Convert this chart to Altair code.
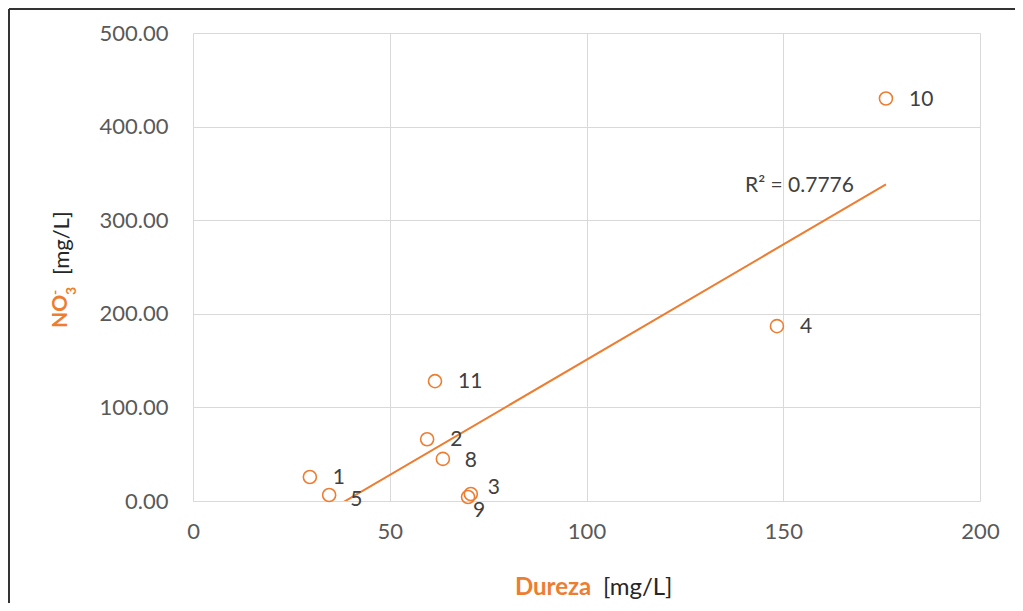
import altair as alt
import pandas as pd

labels = ["1", "2", "3", "4", "5", "8", "9", "10", "11"]
dureza = [29.7, 59.5, 70.6, 148.4, 34.6, 63.5, 69.9, 176.1, 61.5]
no3 = [25.6, 66.0, 7.5, 186.8, 6.4, 45.0, 4.3, 430.0, 128.0]

x_ticks = [0, 50, 100, 150, 200]
y_ticks = [0, 100, 200, 300, 400, 500]
r2_text = "R² = 0.7776"

ORANGE = "#ED7D31"
TEXT = "#404040"
FONT = "Lato"
W, H = 787, 468

df = pd.DataFrame({"label": labels, "x": dureza, "y": no3})

xs = alt.Scale(domain=[0, 200], nice=False)
ys = alt.Scale(domain=[0, 500], nice=False)

base = alt.Chart(df)

points = base.mark_point(shape="circle", filled=False, size=170, strokeWidth=1.6, color=ORANGE, opacity=1).encode(
    x=alt.X("x:Q", scale=xs, axis=alt.Axis(values=x_ticks, title=None, grid=True, gridColor="#d9d9d9",
                                           domain=False, ticks=False, labelFontSize=22, labelColor="#595959",
                                           labelFont=FONT, labelPadding=20, labelFlush=False)),
    y=alt.Y("y:Q", scale=ys, axis=alt.Axis(values=y_ticks, format=".2f", title=None, grid=True, gridColor="#d9d9d9",
                                           domain=False, ticks=False, labelFontSize=22, labelColor="#595959",
                                           labelFont=FONT, labelPadding=25, labelFlush=False)),
)

trend = base.transform_regression("x", "y").mark_line(color=ORANGE, strokeWidth=2, clip=True).encode(
    x=alt.X("x:Q", scale=xs), y=alt.Y("y:Q", scale=ys)
)

def lab(sel, dx, dy):
    return base.transform_filter(alt.FieldOneOfPredicate(field="label", oneOf=sel)).mark_text(
        align="left", baseline="middle", dx=dx, dy=dy, fontSize=21, font=FONT, color=TEXT
    ).encode(x=alt.X("x:Q", scale=xs), y=alt.Y("y:Q", scale=ys), text="label:N")

labs = [
    lab(["1", "2", "4", "10", "11"], 23, 1),
    lab(["8"], 22, 2),
    lab(["5"], 21, 5),
    lab(["3"], 17, -6),
    lab(["9"], 5, 14),
]

one = alt.Chart(df).transform_filter("datum.label == '1'")

def txt(t, x, y, size, color, weight="normal", angle=0, align="left"):
    return one.mark_text(align=align, baseline="middle", fontSize=size, font=FONT, color=color,
                         fontWeight=weight, angle=angle).encode(
        x=alt.value(x), y=alt.value(y), text=alt.value(t))

r2 = txt(r2_text, 552, 153, 21, TEXT)

titles = [
    txt("Dureza", 322, 555, 24, ORANGE, "bold"),
    txt("[mg/L]", 410, 555, 24, "#262626"),
    txt("NO", -132, 295, 21, ORANGE, "bold", 270),
    txt("3", -121, 262, 14, ORANGE, "bold", 270),
    txt("-", -137, 262, 14, ORANGE, "bold", 270),
    txt("[mg/L]", -131, 242, 22, "#262626", "normal", 270),
]

border = [
    one.mark_rule(color="#333333", strokeWidth=2).encode(
        x=alt.value(-184), y=alt.value(-24), y2=alt.value(H + 102)),
    one.mark_rule(color="#333333", strokeWidth=2).encode(
        x=alt.value(-184), x2=alt.value(W + 35), y=alt.value(-24)),
]

chart = alt.layer(trend, points, *labs, r2, *titles, *border).properties(
    width=W, height=H,
    autosize=alt.AutoSizeParams(type="none"),
    padding={"left": 185, "top": 25, "right": 35, "bottom": 102},
    background="white",
).configure_view(stroke=None)

chart.save("out.html", embed_options={"renderer": "svg", "actions": False})
